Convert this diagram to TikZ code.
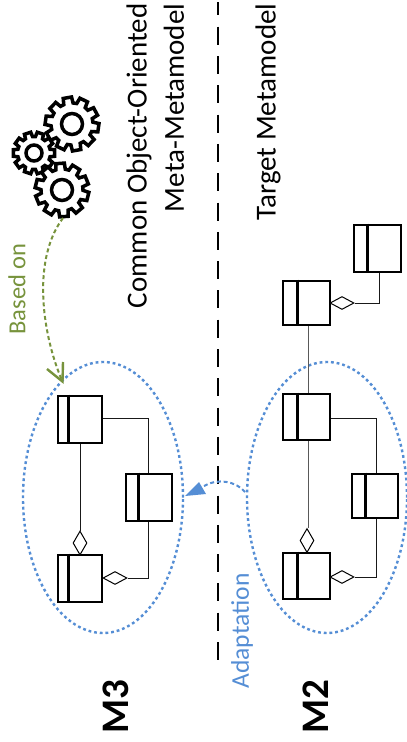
\documentclass[tikz,border=0pt]{standalone}
\usepackage{fontspec}
\setmainfont{Carlito}
\usetikzlibrary{shapes.geometric,calc}
\definecolor{adaptblue}{HTML}{558ED5}
\definecolor{basedgreen}{HTML}{77933C}
\tikzset{
  umlbox/.style={draw=black,line width=2.6pt,fill=white,rectangle,inner sep=0pt},
  divider/.style={line width=2.6pt,draw=black},
  assoc/.style={draw=black!90,line width=1pt},
  aggv/.style={draw=black,line width=1pt,fill=white,diamond,inner sep=0pt,minimum width=14pt,minimum height=24pt},
  aggh/.style={draw=black,line width=1pt,fill=white,diamond,inner sep=0pt,minimum width=24pt,minimum height=13pt},
  scope ellipse/.style={draw=adaptblue,line width=2.4pt,dash pattern=on 2.8pt off 2.9pt,ellipse,inner sep=0pt},
  label big/.style={rotate=90,anchor=east,font=\fontsize{29}{29}\selectfont,text=black,inner sep=0pt},
  level label/.style={rotate=90,font=\bfseries\fontsize{39}{39}\selectfont,text=black,inner sep=0pt},
  gear/.style={draw=black,line width=3.5pt,fill=white,line join=miter}
}
% \gearshape{cx}{cy}{outer}{root}{hole}{phase}
\newcommand{\gearshape}[6]{%
  \draw[gear] ($(#1,#2)+(#6-9:#3)$)
    \foreach \ga in {0,36,...,324} {
      -- ($(#1,#2)+(#6+\ga-9:#3)$) -- ($(#1,#2)+(#6+\ga+9:#3)$)
      -- ($(#1,#2)+(#6+\ga+13:#4)$) -- ($(#1,#2)+(#6+\ga+23:#4)$)
    } -- cycle;
  \draw[gear] (#1,#2) circle[radius=#5];
}
\begin{document}
\begin{tikzpicture}[x=1pt,y=-1pt]
\useasboundingbox (0,0) rectangle (407,742);
\fill[white] (0,0) rectangle (407,742);

% ellipses
\node[scope ellipse,minimum width=160pt,minimum height=271pt] (e3) at (103,497.5) {};
\node[scope ellipse,minimum width=160pt,minimum height=271pt] (e2) at (327,497.5) {};

% separator
\coordinate (septop) at (218,2);
\coordinate (sepbot) at (218,661);
\draw[black,line width=2pt,dash pattern=on 18pt off 11.3pt,dash phase=4.6pt] (septop) -- (sepbot);

% texts
\node[label big] (t1) at (139,3.5) {Common Object-Oriented};
\node[label big] (t2) at (174,3.5) {Meta-Metamodel};
\node[label big] (t3) at (268,3.5) {Target Metamodel};
\node[level label] (m3) at (116,707) {M3};
\node[level label] (m2) at (316,707) {M2};
\node[rotate=90,text=basedgreen,font=\fontsize{24.5}{24.5}\selectfont,inner sep=0pt] (based) at (17,289) {Based on};
\node[rotate=90,text=adaptblue,font=\fontsize{25.5}{25.5}\selectfont,inner sep=0pt] (adapt) at (242,631) {Adaptation};

% boxes
\node[umlbox,minimum width=44pt,minimum height=47pt] (A) at (80,419.5) {};
\node[umlbox,minimum width=46pt,minimum height=47pt] (B) at (149,497.5) {};
\node[umlbox,minimum width=44pt,minimum height=47pt] (C) at (80,578.5) {};
\node[umlbox,minimum width=47pt,minimum height=46pt] (D) at (306.5,417) {};
\node[umlbox,minimum width=46pt,minimum height=44pt] (E) at (375,496) {};
\node[umlbox,minimum width=47pt,minimum height=46pt] (F) at (306.5,576) {};
\node[umlbox,minimum width=47pt,minimum height=44pt] (G) at (306.5,303) {};
\node[umlbox,minimum width=47pt,minimum height=47pt] (H) at (377.5,248.5) {};
\draw[divider] ($(A.north west)+(12,0)$) -- ($(A.south west)+(12,0)$);
\draw[divider] ($(B.north west)+(14,0)$) -- ($(B.south west)+(14,0)$);
\draw[divider] ($(C.north west)+(12,0)$) -- ($(C.south west)+(12,0)$);
\draw[divider] ($(D.north west)+(15.5,0)$) -- ($(D.south west)+(15.5,0)$);
\draw[divider] ($(E.north west)+(14.5,0)$) -- ($(E.south west)+(14.5,0)$);
\draw[divider] ($(F.north west)+(15.5,0)$) -- ($(F.south west)+(15.5,0)$);
\draw[divider] ($(G.north west)+(15.5,0)$) -- ($(G.south west)+(15.5,0)$);
\draw[divider] ($(H.north west)+(15,0)$) -- ($(H.south west)+(15,0)$);

% aggregation diamonds
\node[aggv] (dA) at (80,543) {};
\node[aggh] (dC) at (115,578) {};
\node[aggv] (dD) at (307,540.5) {};
\node[aggh] (dF) at (342,577) {};
\node[aggh] (dG) at (342,303) {};

% connectors
\draw[assoc] (A.south) -- (dA.north);
\draw[assoc] (A.east |- 0,418) -| (148,0 |- B.north);
\draw[assoc] (148,0 |- B.south) |- (dC.east);
\draw[assoc,draw=black!65] (308,0 |- D.south) -- (308,0 |- dD.north);
\draw[assoc,draw=black!65] (308,0 |- G.south) -- (308,0 |- D.north);
\draw[assoc] (D.east |- 0,418) -| (376,0 |- E.north);
\draw[assoc] (376,0 |- E.south) |- (dF.east);
\draw[assoc] (dG.east) -| (379,0 |- H.south);

% gears
\gearshape{72}{124}{27}{21}{10.5}{8}
\gearshape{34}{153}{21}{16.5}{8}{0}
\gearshape{62}{190}{27}{21}{10.5}{14}

% based on
\coordinate (gearout) at (63,218);
\coordinate (basedtip) at (62.5,381.5);
\draw[basedgreen,line width=2pt,dash pattern=on 4pt off 2.8pt]
  (gearout) .. controls (30,262) and (44,340) .. (basedtip);
\draw[basedgreen,line width=2.4pt] (47,369) -- (basedtip) -- (63,362);

% adaptation
\coordinate (adaptfrom) at (245,492);
\coordinate (adapttip) at (185,496);
\draw[adaptblue,line width=2pt,dash pattern=on 4pt off 2.8pt]
  (adaptfrom) .. controls (236,481) and (217,478) .. (204,486);
\fill[adaptblue] (adapttip) -- (199,482) -- (206,494) -- cycle;
\end{tikzpicture}
\end{document}
